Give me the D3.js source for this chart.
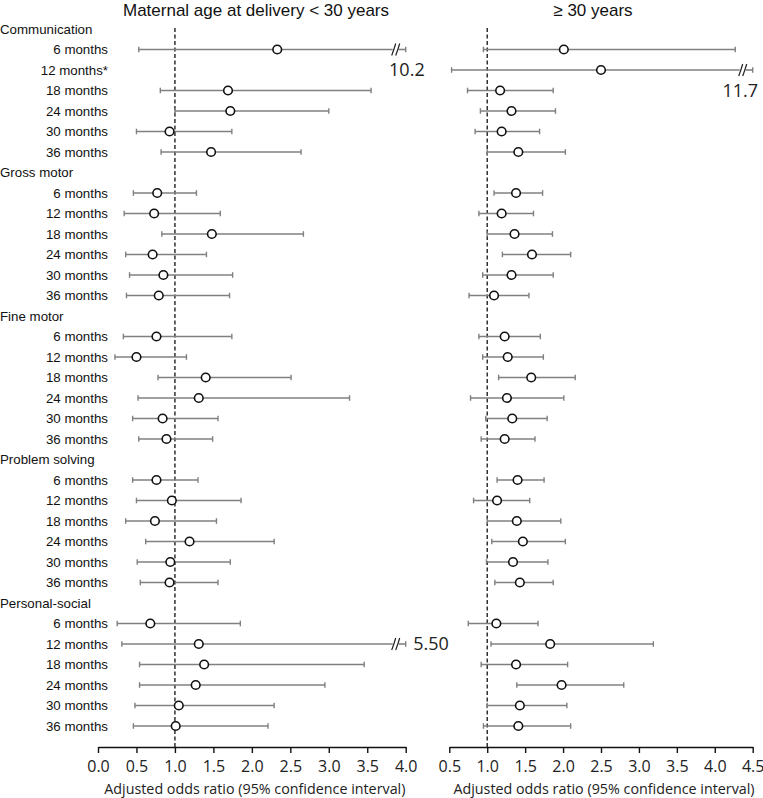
<!DOCTYPE html>
<html>
<head>
<meta charset="utf-8">
<script src="https://cdn.jsdelivr.net/npm/d3@7"></script>
<style>
  html, body { margin: 0; padding: 0; background: #fff; }
  svg { display: block; }
</style>
</head>
<body>
<div id="chart"></div>
<script>
// ---------------- DATA ----------------
const domains = ["Communication", "Gross motor", "Fine motor", "Problem solving", "Personal-social"];
const months = ["6 months", "12 months", "18 months", "24 months", "30 months", "36 months"];
const flaggedRows = ["Communication|12 months"]; // shown with "*"

const panelTitles = ["Maternal age at delivery < 30 years", "\u2265 30 years"];
const axisTitle = "Adjusted odds ratio (95% confidence interval)";

const leftTicks = [0.0, 0.5, 1.0, 1.5, 2.0, 2.5, 3.0, 3.5, 4.0];
const rightTicks = [0.5, 1.0, 1.5, 2.0, 2.5, 3.0, 3.5, 4.0, 4.5];

// < 30 years
const leftOR = [
  [2.33, null, 1.69, 1.72, 0.93, 1.47],
  [0.77, 0.73, 1.48, 0.71, 0.85, 0.79],
  [0.76, 0.50, 1.40, 1.31, 0.84, 0.89],
  [0.76, 0.96, 0.74, 1.19, 0.94, 0.93],
  [0.68, 1.31, 1.38, 1.27, 1.05, 1.01]
];
const leftLow = [
  [0.53, null, 0.81, 1.00, 0.50, 0.82],
  [0.46, 0.34, 0.83, 0.36, 0.41, 0.37],
  [0.33, 0.22, 0.78, 0.52, 0.45, 0.53],
  [0.45, 0.50, 0.36, 0.62, 0.51, 0.55],
  [0.25, 0.31, 0.54, 0.54, 0.48, 0.46]
];
const leftHigh = [
  [10.2, null, 3.55, 3.00, 1.74, 2.64],
  [1.28, 1.59, 2.67, 1.41, 1.75, 1.71],
  [1.74, 1.15, 2.51, 3.27, 1.56, 1.49],
  [1.30, 1.86, 1.54, 2.29, 1.72, 1.56],
  [1.85, 5.50, 3.46, 2.95, 2.29, 2.21]
];

// >= 30 years
const rightOR = [
  [2.01, 2.50, 1.17, 1.32, 1.19, 1.41],
  [1.38, 1.19, 1.36, 1.59, 1.32, 1.09],
  [1.23, 1.27, 1.58, 1.26, 1.33, 1.23],
  [1.40, 1.13, 1.39, 1.47, 1.34, 1.43],
  [1.12, 1.83, 1.38, 1.98, 1.43, 1.41]
];
const rightLow = [
  [0.95, 0.53, 0.74, 0.91, 0.84, 1.00],
  [1.09, 0.89, 1.00, 1.20, 0.94, 0.76],
  [0.89, 0.94, 1.15, 0.78, 0.98, 0.92],
  [1.13, 0.82, 1.00, 1.06, 0.99, 1.10],
  [0.75, 1.05, 0.92, 1.39, 1.00, 0.95]
];
const rightHigh = [
  [4.27, 11.7, 1.87, 1.90, 1.69, 2.03],
  [1.73, 1.61, 1.86, 2.10, 1.87, 1.55],
  [1.70, 1.74, 2.16, 2.01, 1.79, 1.63],
  [1.75, 1.56, 1.97, 2.03, 1.80, 1.87],
  [1.67, 3.19, 2.06, 2.80, 2.05, 2.10]
];

// ---------------- LAYOUT ----------------
const W = 763, H = 798;
const svg = d3.select("#chart").append("svg").attr("width", W).attr("height", H);

const labelFont = "'Liberation Sans', Arial, sans-serif";
const numFont = "'Open Sans', 'Noto Sans', sans-serif";

// row keys: header then months for each domain
const rowKeys = [];
domains.forEach(d => {
  rowKeys.push(d + "|header");
  months.forEach(m => rowKeys.push(d + "|" + m));
});
const y = d3.scalePoint().domain(rowKeys).range([29, 726]);

const axisY = 747;
const xL = d3.scaleLinear().domain([0, 4]).range([98, 405.7]);
const xR = d3.scaleLinear().domain([0.5, 4.5]).range([449.3, 752.7]);

// row labels
domains.forEach(d => {
  svg.append("text")
    .attr("x", 0).attr("y", y(d + "|header")).attr("dy", "0.35em")
    .attr("font-family", labelFont).attr("font-size", 13.3).attr("fill", "#111")
    .text(d);
  months.forEach(m => {
    const key = d + "|" + m;
    svg.append("text")
      .attr("x", 108).attr("y", y(key)).attr("dy", "0.35em")
      .attr("text-anchor", "end")
      .attr("font-family", labelFont).attr("font-size", 13.3).attr("fill", "#111")
      .text(m + (flaggedRows.includes(key) ? "*" : ""));
  });
});

// panel titles
const titleX = [256, 593];
panelTitles.forEach((t, i) => {
  svg.append("text")
    .attr("x", titleX[i]).attr("y", 16)
    .attr("text-anchor", "middle")
    .attr("font-family", labelFont).attr("font-size", 17).attr("fill", "#111")
    .text(t);
});

function drawPanel(x, ticks, OR, LOW, HIGH) {
  const g = svg.append("g");
  const [xmin, xmax] = x.domain();

  // axis
  const axis = d3.axisBottom(x).tickValues(ticks).tickFormat(d3.format(".1f"))
    .tickSize(6).tickSizeOuter(0).tickPadding(8);
  const ag = g.append("g").attr("transform", `translate(0,${axisY})`).call(axis);
  ag.select(".domain").attr("stroke", "#111").attr("stroke-width", 1.4);
  ag.selectAll(".tick line").attr("stroke", "#111").attr("stroke-width", 1.4);
  ag.selectAll(".tick text").attr("font-family", numFont).attr("font-size", 16).attr("fill", "#222");

  g.append("text")
    .attr("x", (x.range()[0] + x.range()[1]) / 2 + 3).attr("y", 794)
    .attr("text-anchor", "middle")
    .attr("font-family", numFont).attr("font-size", 14.3).attr("fill", "#222")
    .text(axisTitle);

  // reference line at OR = 1
  g.append("line")
    .attr("x1", x(1)).attr("x2", x(1)).attr("y1", 28).attr("y2", axisY)
    .attr("stroke", "#222").attr("stroke-width", 1.4).attr("stroke-dasharray", "4,2.5");

  const capH = 2.8;
  const barColor = "#808080";
  domains.forEach((d, di) => {
    months.forEach((m, mi) => {
      const or = OR[di][mi], lo = LOW[di][mi], hi = HIGH[di][mi];
      if (or == null) return;
      const yy = y(d + "|" + m);
      const x0 = x(Math.max(lo, xmin));
      const broken = hi > xmax;
      const xEnd = x(Math.min(hi, xmax));
      if (!broken) {
        g.append("line").attr("x1", x0).attr("x2", xEnd).attr("y1", yy).attr("y2", yy)
          .attr("stroke", barColor).attr("stroke-width", 1.6);
      } else {
        g.append("line").attr("x1", x0).attr("x2", xEnd - 13).attr("y1", yy).attr("y2", yy)
          .attr("stroke", barColor).attr("stroke-width", 1.6);
        g.append("line").attr("x1", xEnd - 7).attr("x2", xEnd).attr("y1", yy).attr("y2", yy)
          .attr("stroke", barColor).attr("stroke-width", 1.6);
        [-12, -8].forEach(off => {
          g.append("path")
            .attr("d", `M${xEnd + off - 2},${yy + 6} Q${xEnd + off + 0.3},${yy} ${xEnd + off + 2},${yy - 6}`)
            .attr("fill", "none").attr("stroke", "#222").attr("stroke-width", 1.2);
        });
        // label of the upper limit
        const lbl = d3.format(hi < 10 ? ".2f" : ".1f")(hi);
        if (mi === 0 || xEnd > 700) {
          g.append("text")
            .attr("x", Math.min(xEnd + 19, 758)).attr("y", y(d + "|" + months[mi + 1]))
            .attr("dy", "0.36em").attr("text-anchor", "end")
            .attr("font-family", numFont).attr("font-size", 18).attr("fill", "#222")
            .text(lbl);
        } else {
          g.append("text")
            .attr("x", xEnd + 7.5).attr("y", yy).attr("dy", "0.36em")
            .attr("font-family", numFont).attr("font-size", 18).attr("fill", "#222")
            .text(lbl);
        }
      }
      // caps
      [x0, xEnd].forEach(cx => {
        g.append("line").attr("x1", cx).attr("x2", cx).attr("y1", yy - capH).attr("y2", yy + capH)
          .attr("stroke", barColor).attr("stroke-width", 1.4);
      });
      // point
      g.append("circle").attr("cx", x(or)).attr("cy", yy).attr("r", 4.3)
        .attr("fill", "#fff").attr("stroke", "#111").attr("stroke-width", 1.6);
    });
  });
}

drawPanel(xL, leftTicks, leftOR, leftLow, leftHigh);
drawPanel(xR, rightTicks, rightOR, rightLow, rightHigh);
</script>
</body>
</html>
